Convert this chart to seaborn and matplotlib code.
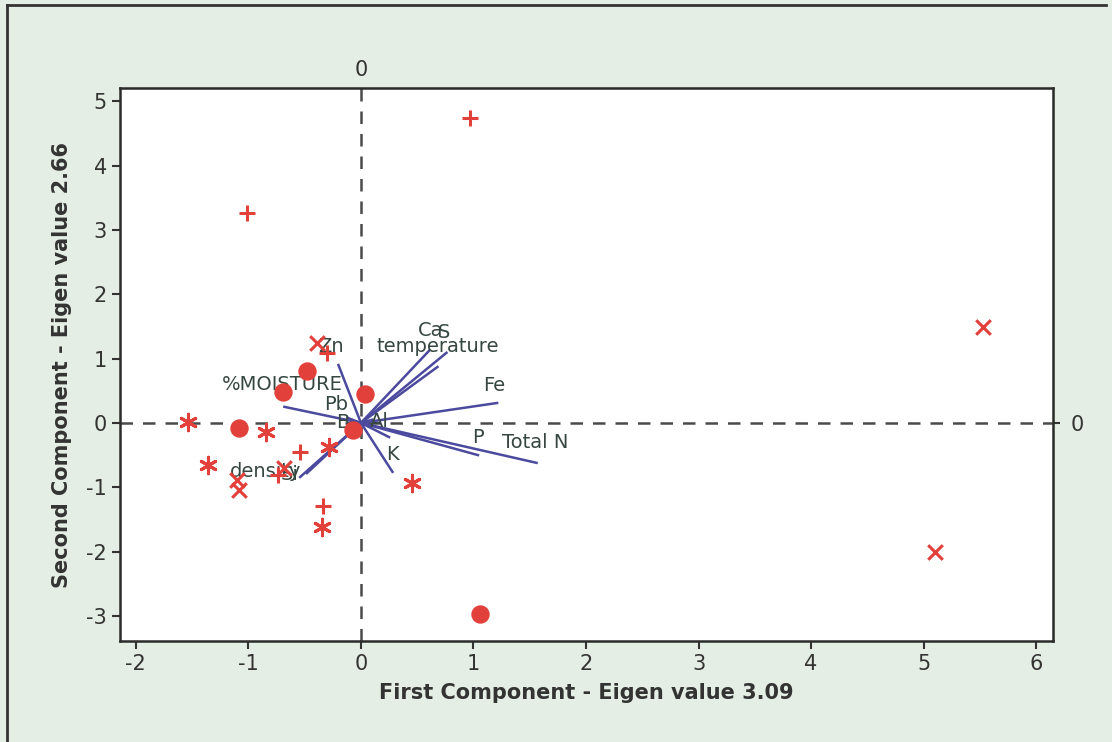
import numpy as np
import pandas as pd
import matplotlib
matplotlib.use('Agg')
import matplotlib.pyplot as plt
import seaborn as sns

plt.rcParams['axes.unicode_minus'] = False

# scores, grouped by the marker used in the plot
circle_x = [-0.48, -0.69, 0.04, -1.08, -0.07, 1.06]
circle_y = [0.81, 0.48, 0.45, -0.08, -0.11, -2.97]
cross_x = [-0.39, 5.53, 5.10, -1.10, -1.08, -0.68]
cross_y = [1.24, 1.49, -2.00, -0.89, -1.04, -0.70]
plus_x = [0.97, -1.01, -0.54, -0.34, -0.30, -0.74]
plus_y = [4.74, 3.26, -0.45, -1.29, 1.09, -0.81]
star_x = [-1.54, -0.84, -1.36, -0.28, 0.45, -0.35]
star_y = [0.02, -0.14, -0.65, -0.37, -0.93, -1.61]

# loadings (scaled) and their labels
load_names = ['Ca', 'S', 'temperature', 'Fe', 'P', 'Total N', 'K', 'Zn',
              '%MOISTURE', 'Pb', 'B', 'Al', 'density', 'Si', 'Mg']
load_x = [0.61, 0.76, 0.68, 1.21, 1.04, 1.56, 0.28, -0.20,
          -0.68, -0.12, -0.08, 0.10, -0.54, -0.48, 0.25]
load_y = [1.13, 1.09, 0.87, 0.31, -0.50, -0.62, -0.76, 0.90,
          0.25, 0.08, 0.03, 0.05, -0.84, -0.78, -0.22]
label_x = [0.62, 0.74, 0.68, 1.18, 1.04, 1.55, 0.28, -0.27,
           -0.70, -0.22, -0.16, 0.16, -0.85, -0.63, 0.0]
label_y = [1.44, 1.40, 1.18, 0.58, -0.23, -0.31, -0.49, 1.18,
           0.59, 0.29, 0.0, 0.03, -0.76, -0.80, 0.0]

red = '#e2403a'
blue = '#4b4a9e'
txt = '#364640'

fig = plt.figure(figsize=(11.12, 7.42), dpi=100)
fig.patch.set_facecolor('#e5eee4')
ax = fig.add_axes([0.108, 0.136, 0.839, 0.745])
ax.set_facecolor('white')

ax.axhline(0, color='#4a4a4a', ls=(0, (5, 4)), lw=1.8, zorder=1)
ax.axvline(0, color='#4a4a4a', ls=(0, (5, 4)), lw=1.8, zorder=1)

for i in range(len(load_names)):
    ax.plot([0, load_x[i]], [0, load_y[i]], color=blue, lw=1.8, zorder=2)
for i in range(len(load_names)):
    if load_names[i] == 'Mg':
        continue
    ax.text(label_x[i], label_y[i], load_names[i], color=txt, fontsize=14,
            ha='center', va='center', zorder=3)

df_o = pd.DataFrame({'x': circle_x, 'y': circle_y})
df_x = pd.DataFrame({'x': cross_x, 'y': cross_y})
df_p = pd.DataFrame({'x': plus_x, 'y': plus_y})
df_s = pd.DataFrame({'x': star_x, 'y': star_y})
sns.scatterplot(data=df_o, x='x', y='y', ax=ax, marker='o', s=150, color=red,
                edgecolor=red, zorder=4)
sns.scatterplot(data=df_x, x='x', y='y', ax=ax, marker='x', s=110, color=red,
                linewidth=2.2, zorder=4)
sns.scatterplot(data=df_p, x='x', y='y', ax=ax, marker='+', s=130, color=red,
                linewidth=2.2, zorder=4)
sns.scatterplot(data=df_s, x='x', y='y', ax=ax, marker=(6, 2, 0), s=140,
                color=red, linewidth=2.2, zorder=4)

ax.set_xlim(-2.14, 6.15)
ax.set_ylim(-3.39, 5.2)
ax.set_xticks(range(-2, 7))
ax.set_yticks(range(-3, 6))
ax.tick_params(labelsize=15, colors='#333333', length=6, width=1.5)
for sp in ax.spines.values():
    sp.set_linewidth(1.8)
    sp.set_color('#2b2b2b')

ax.set_xlabel('First Component - Eigen value 3.09', fontsize=15,
              fontweight='bold', color='#333333', labelpad=6)
ax.set_ylabel('Second Component - Eigen value 2.66', fontsize=15,
              fontweight='bold', color='#333333', labelpad=10)

top = ax.secondary_xaxis('top')
top.set_xticks([0])
top.tick_params(labelsize=15, colors='#333333', length=0, pad=6)
right = ax.secondary_yaxis('right')
right.set_yticks([0])
right.tick_params(labelsize=15, colors='#333333', length=5, width=1.5, pad=8)

# outer frame (left and top edges)
fig.add_artist(plt.Line2D([0.006, 0.006], [0.0, 0.993], color='#333333', lw=2,
                          transform=fig.transFigure))
fig.add_artist(plt.Line2D([0.006, 0.995], [0.993, 0.993], color='#333333', lw=2,
                          transform=fig.transFigure))

fig.savefig('out.png', dpi=100, facecolor=fig.get_facecolor())
